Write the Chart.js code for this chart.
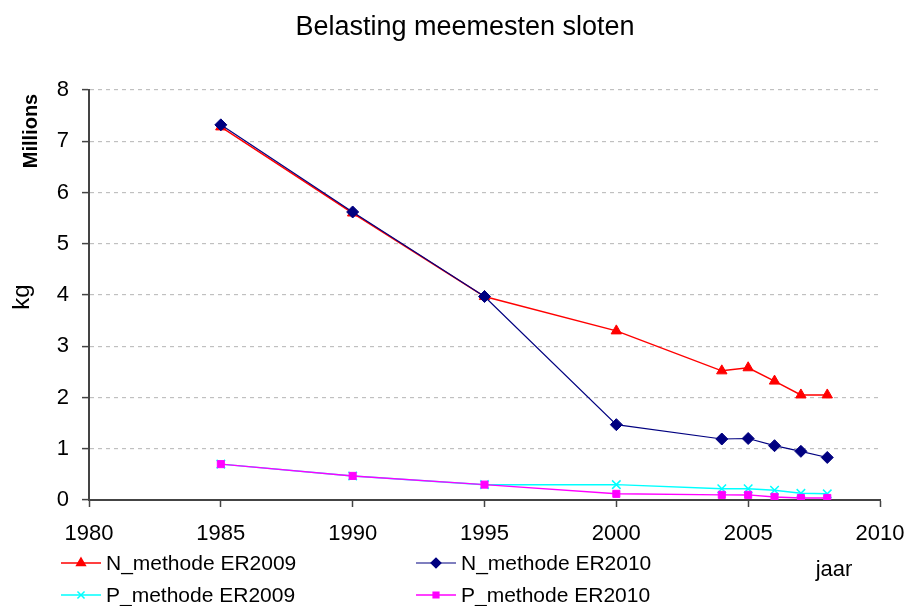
<!DOCTYPE html>
<html>
<head>
<meta charset="utf-8">
<script src="https://cdn.jsdelivr.net/npm/chart.js@4.4.1/dist/chart.umd.min.js"></script>
<style>
  html, body { margin: 0; padding: 0; background: #fff; }
  #wrap { width: 909px; height: 606px; }
</style>
</head>
<body>
<div id="wrap"><canvas id="chart" width="909" height="606"></canvas></div>
<script>
const years = [1985, 1990, 1995, 2000, 2004, 2005, 2006, 2007, 2008];
const nEr2009 = [7.28, 5.60, 3.97, 3.30, 2.52, 2.58, 2.32, 2.05, 2.05];
const nEr2010 = [7.32, 5.62, 3.97, 1.47, 1.19, 1.20, 1.06, 0.95, 0.83];
const pEr2009 = [0.70, 0.47, 0.30, 0.30, 0.22, 0.22, 0.19, 0.13, 0.12];
const pEr2010 = [0.70, 0.47, 0.30, 0.12, 0.10, 0.10, 0.06, 0.04, 0.04];
const xTicks = [1980, 1985, 1990, 1995, 2000, 2005, 2010];
const yTicks = [0, 1, 2, 3, 4, 5, 6, 7, 8];

const FONT = "'Liberation Sans', Arial, sans-serif";

function pts(vals) {
    return years.map((y, i) => ({ x: y, y: vals[i] }));
}

const series = [
    { label: 'N_methode ER2009', data: nEr2009, color: '#ff0000', style: 'triangle', radius: 6, width: 1.5, order: 4 },
    { label: 'N_methode ER2010', data: nEr2010, color: '#000080', style: 'rectRot', radius: 6, width: 1.2, order: 3 },
    { label: 'P_methode ER2009', data: pEr2009, color: '#00ffff', style: 'crossRot', radius: 6, width: 1.5, order: 2 },
    { label: 'P_methode ER2010', data: pEr2010, color: '#ff00ff', style: 'rect', radius: 5, width: 1.5, order: 1 }
];

// legend slots: [lineStart, textX, y]
const legendPos = [
    [61, 106, 563],
    [416, 461, 563],
    [61, 106, 595],
    [416, 461, 595]
];

const decorations = {
    id: 'decorations',
    afterDraw(chart) {
        const ctx = chart.ctx;
        ctx.save();
        ctx.fillStyle = '#000';
        ctx.textBaseline = 'middle';

        ctx.textAlign = 'center';
        ctx.font = '27px ' + FONT;
        ctx.fillText('Belasting meemesten sloten', 465, 28);

        ctx.font = '22px ' + FONT;
        ctx.fillText('jaar', 834, 570);

        ctx.save();
        ctx.translate(22, 297);
        ctx.rotate(-Math.PI / 2);
        ctx.font = '24px ' + FONT;
        ctx.fillText('kg', 0, 0);
        ctx.restore();

        ctx.save();
        ctx.translate(31, 131);
        ctx.rotate(-Math.PI / 2);
        ctx.font = 'bold 20px ' + FONT;
        ctx.fillText('Millions', 0, 0);
        ctx.restore();

        ctx.textAlign = 'left';
        ctx.font = '21px ' + FONT;
        series.forEach((s, i) => {
            const [lx, tx, ly] = legendPos[i];
            ctx.strokeStyle = s.color;
            ctx.lineWidth = s.width;
            ctx.beginPath();
            ctx.moveTo(lx, ly);
            ctx.lineTo(lx + 40, ly);
            ctx.stroke();
            ctx.fillStyle = s.color;
            Chart.helpers.drawPoint(ctx, { pointStyle: s.style, radius: s.radius - 1, borderWidth: 1.2 }, lx + 20, ly);
            ctx.fillStyle = '#000';
            ctx.fillText(s.label, tx, ly + 1);
        });
        ctx.restore();
    }
};

new Chart(document.getElementById('chart'), {
    type: 'line',
    data: {
        datasets: series.map(s => ({
            label: s.label,
            data: pts(s.data),
            borderColor: s.color,
            backgroundColor: s.color,
            borderWidth: s.width,
            pointStyle: s.style,
            pointRadius: s.radius,
            pointBorderWidth: s.style === 'crossRot' ? 1.5 : 1,
            pointBorderColor: s.color,
            pointBackgroundColor: s.color,
            tension: 0,
            order: s.order
        }))
    },
    options: {
        responsive: false,
        animation: false,
        layout: { padding: { top: 90, right: 29, left: 0, bottom: 0 } },
        plugins: {
            legend: { display: false },
            title: { display: false },
            tooltip: { enabled: false }
        },
        scales: {
            x: {
                type: 'linear',
                min: xTicks[0],
                max: xTicks[xTicks.length - 1],
                afterFit: s => { s.height = 106; s.paddingLeft = 0; s.paddingRight = 0; },
                afterBuildTicks: s => { s.ticks = xTicks.map(v => ({ value: v })); },
                grid: { drawOnChartArea: false, tickLength: 7, color: '#444', tickWidth: 1.5 },
                border: { color: '#444', width: 2 },
                ticks: {
                    color: '#000',
                    padding: 14,
                    maxRotation: 0,
                    font: { family: FONT, size: 22 },
                    callback: v => String(v)
                }
            },
            y: {
                min: yTicks[0],
                max: yTicks[yTicks.length - 1],
                afterFit: s => { s.width = 89; s.paddingTop = 0; s.paddingBottom = 0; },
                afterBuildTicks: s => { s.ticks = yTicks.map(v => ({ value: v })); },
                grid: { color: '#c0c0c0', lineWidth: 1.2, tickColor: '#444', tickLength: 7, tickWidth: 1.5, tickBorderDash: [] },
                border: { color: '#444', width: 2, dash: [4, 4] },
                ticks: {
                    color: '#000',
                    padding: 13,
                    font: { family: FONT, size: 22 }
                }
            }
        }
    },
    plugins: [decorations]
});
</script>
</body>
</html>
